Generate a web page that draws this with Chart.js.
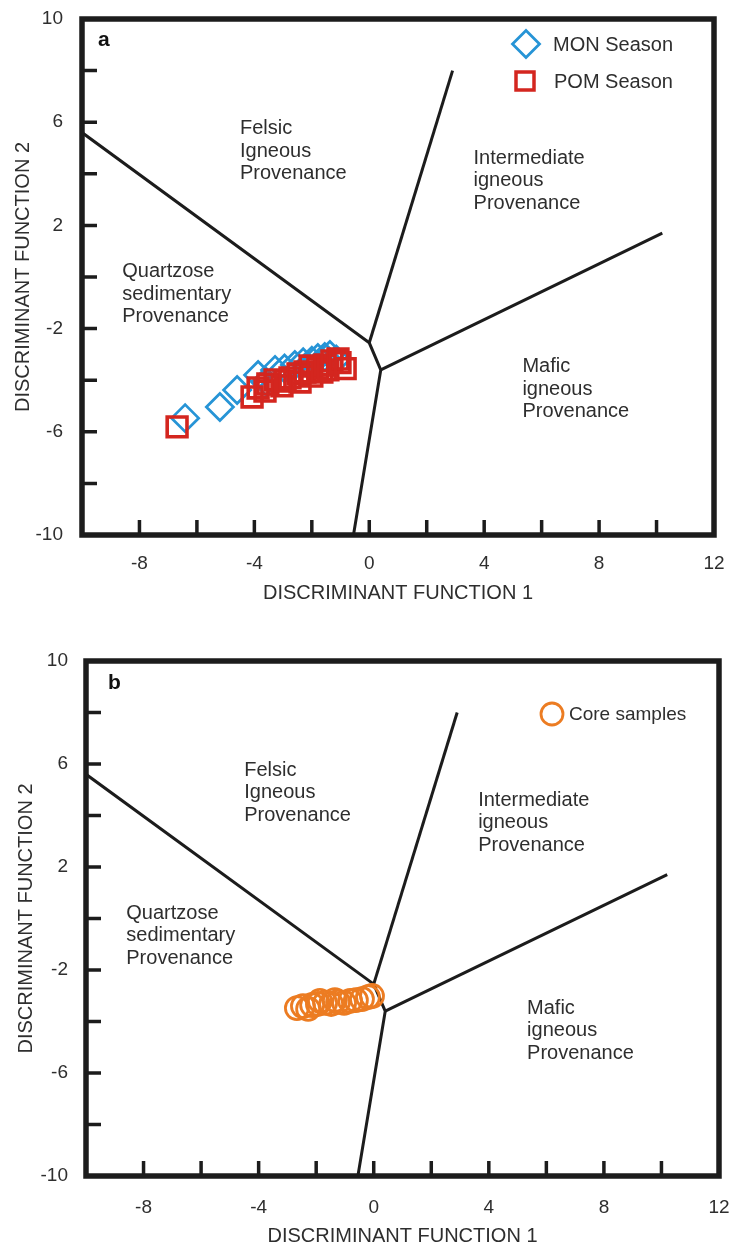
<!DOCTYPE html>
<html>
<head>
<meta charset="utf-8">
<script src="https://cdn.jsdelivr.net/npm/chart.js@4.4.1/dist/chart.umd.min.js"></script>
<style>
  html, body { margin: 0; padding: 0; background: #fff; }
  body { width: 735px; height: 1248px; position: relative; overflow: hidden; }
  canvas { position: absolute; left: 0; }
  #panelA { top: 0; }
  #panelB { top: 640px; }
</style>
</head>
<body>
<canvas id="panelA" width="735" height="620"></canvas>
<canvas id="panelB" width="735" height="608"></canvas>
<script>
// Discriminant function scores (DF1, DF2)
const monX = [-6.41, -5.20, -4.60, -3.87, -3.60, -3.28, -2.95, -2.59, -2.30, -2.00, -1.79, -1.55, -1.37, -1.15];
const monY = [-5.47, -5.04, -4.38, -3.80, -4.05, -3.60, -3.55, -3.41, -3.30, -3.25, -3.14, -3.10, -3.02, -3.20];

const pomX = [-6.69, -4.08, -3.87, -3.63, -3.53, -3.28, -3.04, -2.93, -2.76, -2.48, -2.41, -2.24, -2.06, -2.00, -1.79, -1.65, -1.54, -1.44, -1.30, -1.09, -1.02, -0.84];
const pomY = [-5.81, -4.65, -4.30, -4.42, -4.15, -3.99, -4.22, -4.03, -3.91, -3.76, -4.07, -3.68, -3.45, -3.84, -3.53, -3.68, -3.41, -3.60, -3.25, -3.18, -3.32, -3.55];

const coreX = [-2.67, -2.46, -2.28, -2.14, -1.94, -1.87, -1.69, -1.48, -1.35, -1.24, -1.03, -0.82, -0.62, -0.41, -0.20, -0.06];
const coreY = [-3.48, -3.40, -3.51, -3.36, -3.32, -3.20, -3.28, -3.32, -3.17, -3.24, -3.28, -3.20, -3.17, -3.13, -3.05, -3.01];

// Field boundaries of the provenance diagram
const boundaryMain = [[-10, 5.6], [0, -2.55], [0.4, -3.6], [-0.55, -10]];
const boundaryFelsicIntermediate = [[0, -2.55], [2.9, 8]];
const boundaryIntermediateMafic = [[0.4, -3.6], [10.2, 1.7]];

// Axis ticks
const xTickValues = [-8, -4, 0, 4, 8, 12];
const yTickValues = [10, 6, 2, -2, -6, -10];

// Field names
const fieldNames = [
  ['Felsic', 'Igneous', 'Provenance'],
  ['Intermediate', 'igneous', 'Provenance'],
  ['Quartzose', 'sedimentary', 'Provenance'],
  ['Mafic', 'igneous', 'Provenance']
];
const fieldAnchors = [[-4.5, 5.75], [3.63, 4.6], [-8.6, 0.2], [5.33, -3.48]];

const FONT = "'Liberation Sans', Arial, Helvetica, sans-serif";
const INK = '#1c1c1c';
const TEXT = '#2e2e2e';
const BLUE = '#2694d6';
const RED = '#d4261f';
const ORANGE = '#ec7c22';

const toPts = (xs, ys) => xs.map((v, i) => ({ x: v, y: ys[i] }));
const toXY = arr => arr.map(p => ({ x: p[0], y: p[1] }));

function boundaryDatasets() {
  return [boundaryMain, boundaryFelsicIntermediate, boundaryIntermediateMafic].map(seg => ({
    type: 'line',
    data: toXY(seg),
    showLine: true,
    borderColor: INK,
    borderWidth: 3,
    pointRadius: 0,
    fill: false,
    tension: 0,
    order: 5
  }));
}

function drawMarker(ctx, kind, cx, cy, color) {
  ctx.save();
  ctx.strokeStyle = color;
  ctx.beginPath();
  if (kind === 'diamond') {
    ctx.lineWidth = 2.8;
    const r = 13.5;
    ctx.moveTo(cx, cy - r); ctx.lineTo(cx + r, cy); ctx.lineTo(cx, cy + r); ctx.lineTo(cx - r, cy); ctx.closePath();
  } else if (kind === 'square') {
    ctx.lineWidth = 3.5;
    const h = 9;
    ctx.rect(cx - h, cy - h, 2 * h, 2 * h);
  } else {
    ctx.lineWidth = 2.8;
    ctx.arc(cx, cy, 11, 0, Math.PI * 2);
  }
  ctx.stroke();
  ctx.restore();
}

// Frame, inward tick marks, field names, panel letter and legend
const framePlugin = {
  id: 'frame',
  afterDatasetsDraw(chart, args, opts) {
    const { ctx, chartArea: a, scales: { x, y } } = chart;
    ctx.save();
    ctx.strokeStyle = INK;
    ctx.lineCap = 'butt';
    ctx.lineWidth = 3.5;
    ctx.beginPath();
    x.ticks.forEach(t => {
      if (t.value <= x.min || t.value >= x.max) return;
      const px = x.getPixelForValue(t.value);
      ctx.moveTo(px, a.bottom); ctx.lineTo(px, a.bottom - 15);
    });
    y.ticks.forEach(t => {
      if (t.value <= y.min || t.value >= y.max) return;
      const py = y.getPixelForValue(t.value);
      ctx.moveTo(a.left, py); ctx.lineTo(a.left + 15, py);
    });
    ctx.stroke();

    ctx.lineWidth = 5.5;
    ctx.strokeRect(a.left, a.top, a.right - a.left, a.bottom - a.top);

    // field names
    ctx.fillStyle = TEXT;
    ctx.font = '20px ' + FONT;
    ctx.textBaseline = 'middle';
    ctx.textAlign = 'left';
    fieldNames.forEach((lines, i) => {
      const px = x.getPixelForValue(fieldAnchors[i][0]);
      const py = y.getPixelForValue(fieldAnchors[i][1]);
      lines.forEach((s, k) => ctx.fillText(s, px, py + k * 22.5));
    });

    // panel letter
    ctx.fillStyle = '#111';
    ctx.font = 'bold 21px ' + FONT;
    ctx.fillText(opts.letter, a.left + opts.letterDX, a.top + opts.letterDY);

    // legend
    opts.legend.forEach(item => {
      const cx = a.right + item.dx, cy = a.top + item.dy;
      drawMarker(ctx, item.kind, cx, cy, item.color);
      ctx.fillStyle = TEXT;
      ctx.font = item.size + 'px ' + FONT;
      ctx.fillText(item.label, cx + item.textGap, cy + 1);
    });
    ctx.restore();
  }
};

function makeScales(geom) {
  const tickFont = { family: FONT, size: 19 };
  const titleFont = { family: FONT, size: 20 };
  return {
    x: {
      type: 'linear', min: -10, max: 12,
      grid: { display: false, drawTicks: false },
      border: { display: false },
      ticks: {
        stepSize: 2, autoSkip: false, maxRotation: 0, color: TEXT, font: tickFont,
        padding: geom.xTickPad,
        callback: v => xTickValues.includes(v) ? String(v) : ''
      },
      title: { display: true, text: 'DISCRIMINANT FUNCTION 1', color: TEXT, font: titleFont, padding: { top: 0, bottom: geom.xTitlePad } },
      afterFit: s => { s.height = geom.xHeight; s.paddingLeft = 0; s.paddingRight = 0; }
    },
    y: {
      type: 'linear', min: -10, max: 10,
      grid: { display: false, drawTicks: false },
      border: { display: false },
      ticks: {
        stepSize: 2, autoSkip: false, color: TEXT, font: tickFont,
        padding: geom.yTickPad,
        callback: v => yTickValues.includes(v) ? String(v) : ''
      },
      title: { display: true, text: 'DISCRIMINANT FUNCTION 2', color: TEXT, font: titleFont, padding: { top: geom.yTitlePad, bottom: 0 } },
      afterFit: s => { s.width = geom.yWidth; s.paddingTop = 0; s.paddingBottom = 0; }
    }
  };
}

function pointSet(pts, style, radius, color, width, order) {
  return {
    type: 'scatter',
    data: pts,
    pointStyle: style,
    pointRadius: radius,
    pointHoverRadius: radius,
    pointBorderColor: color,
    pointBackgroundColor: 'rgba(0,0,0,0)',
    pointBorderWidth: width,
    showLine: false,
    order: order
  };
}

const common = {
  responsive: false,
  animation: false,
  devicePixelRatio: 1,
  events: []
};

new Chart(document.getElementById('panelA'), {
  type: 'scatter',
  data: {
    datasets: [
      pointSet(toPts(pomX, pomY), 'rect', 14, RED, 3.6, 1),
      pointSet(toPts(monX, monY), 'rectRot', 13.5, BLUE, 2.8, 2),
      ...boundaryDatasets()
    ]
  },
  options: Object.assign({}, common, {
    layout: { padding: { top: 19, right: 21, left: 0, bottom: 0 } },
    scales: makeScales({ xHeight: 85, xTickPad: 17, xTitlePad: 15, yWidth: 82, yTickPad: 19, yTitlePad: 11 }),
    plugins: {
      legend: { display: false },
      tooltip: { enabled: false },
      frame: {
        letter: 'a', letterDX: 16, letterDY: 21,
        legend: [
          { kind: 'diamond', color: BLUE, label: 'MON Season', size: 20, dx: -188, dy: 25, textGap: 27 },
          { kind: 'square', color: RED, label: 'POM Season', size: 20, dx: -189, dy: 62, textGap: 29 }
        ]
      }
    }
  }),
  plugins: [framePlugin]
});

new Chart(document.getElementById('panelB'), {
  type: 'scatter',
  data: {
    datasets: [
      pointSet(toPts(coreX, coreY), 'circle', 11.5, ORANGE, 2.8, 1),
      ...boundaryDatasets()
    ]
  },
  options: Object.assign({}, common, {
    layout: { padding: { top: 21, right: 16, left: 0, bottom: 0 } },
    scales: makeScales({ xHeight: 72, xTickPad: 20, xTitlePad: 0, yWidth: 86, yTickPad: 18, yTitlePad: 14 }),
    plugins: {
      legend: { display: false },
      tooltip: { enabled: false },
      frame: {
        letter: 'b', letterDX: 22, letterDY: 22,
        legend: [
          { kind: 'circle', color: ORANGE, label: 'Core samples', size: 19, dx: -167, dy: 53, textGap: 17 }
        ]
      }
    }
  }),
  plugins: [framePlugin]
});
</script>
</body>
</html>
